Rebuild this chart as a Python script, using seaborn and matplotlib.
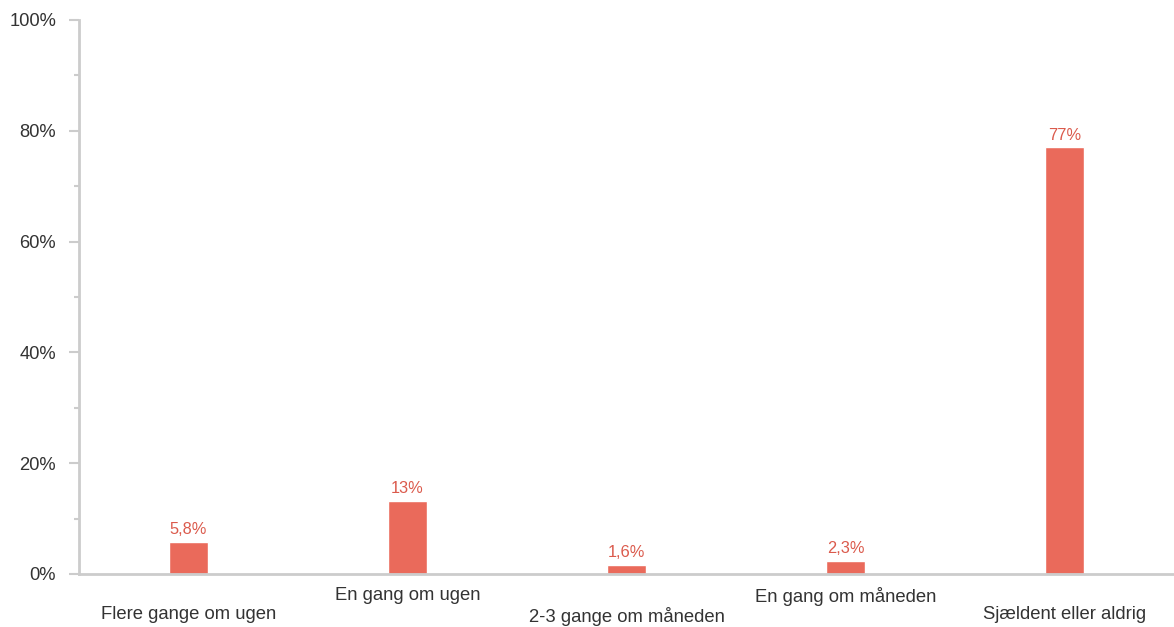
import matplotlib
matplotlib.use("Agg")
from matplotlib import pyplot as plt
import numpy as np
import pandas as pd
import seaborn as sns

categories = ["Flere gange om ugen", "En gang om ugen", "2-3 gange om måneden",
              "En gang om måneden", "Sjældent eller aldrig"]
values = [5.8, 13.2, 1.6, 2.3, 77.0]
value_labels = ["5,8%", "13%", "1,6%", "2,3%", "77%"]
y_ticks = [0, 20, 40, 60, 80, 100]
y_tick_labels = ["0%", "20%", "40%", "60%", "80%", "100%"]

sns.set_style("white")
plt.rcParams['font.family'] = ['Liberation Sans', 'DejaVu Sans']

df = pd.DataFrame({"kategori": categories, "andel": values})

bar_color = "#EA6A5B"
axis_color = "#cccccc"

fig = plt.figure(figsize=(11.74, 6.27), dpi=100)
ax = fig.add_axes([79 / 1174, 53 / 627, 1 - 79 / 1174, 554 / 627])

sns.barplot(data=df, x="kategori", y="andel", color=bar_color, width=0.175,
            saturation=1, ax=ax)

ax.bar_label(ax.containers[0], labels=value_labels, padding=3.5,
             color="#DB5A4C", fontsize=11.8)

ax.set_ylim(0, 100)
ax.set_xlim(-0.5, 4.5)
ax.set_yticks(y_ticks)
ax.set_yticklabels(y_tick_labels)
ax.set_yticks(np.arange(10, 100, 20), minor=True)

# staggered x labels, alternating rows
stag = [("\n" + c) if i % 2 == 0 else c for i, c in enumerate(categories)]
ax.set_xticks(range(len(categories)))
ax.set_xticklabels(stag, linespacing=1.22)

ax.set_xlabel("")
ax.set_ylabel("")

for s in ["top", "right"]:
    ax.spines[s].set_visible(False)
for s in ["left", "bottom"]:
    ax.spines[s].set_color(axis_color)
    ax.spines[s].set_linewidth(2)

ax.tick_params(axis="y", which="major", length=7.5, width=1.5, color=axis_color,
               pad=9, labelsize=13.2, labelcolor="#333333", left=True)
ax.tick_params(axis="y", which="minor", length=3.5, width=1.5, color=axis_color, left=True)
ax.tick_params(axis="x", length=0, pad=9, labelsize=13.3, labelcolor="#333333")

for lab in ax.get_xticklabels():
    lab.set_verticalalignment("top")

fig.savefig("out.png", dpi=100)
